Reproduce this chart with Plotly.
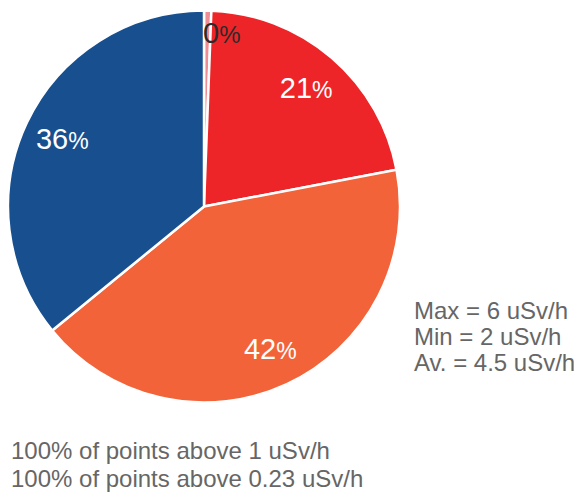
import plotly.graph_objects as go

categories = ["< 1 uSv/h", "1-3 uSv/h", "3-5 uSv/h", "> 5 uSv/h"]
values = [0.6, 21.4, 42.1, 35.9]
pct_labels = ["0", "21", "42", "36"]
colors = ["#EE8E94", "#EE2528", "#F2633A", "#174F8F"]
stats_lines = ["Max = 6 uSv/h", "Min = 2 uSv/h", "Av. = 4.5 uSv/h"]
note_lines = ["100% of points above 1 uSv/h", "100% of points above 0.23 uSv/h"]

W, H = 582, 495
OFF = 8  # page body margin in the browser

def px(x):
    return (x - OFF) / W

def py(y):
    return 1 - (y - OFF) / H

FONT = "Liberation Sans, Arial, Helvetica, sans-serif"
pct_span = "<span style='font-size:23px'>%</span>"
texts = [""] + [f"{p}{pct_span}" for p in pct_labels[1:]]

dom = dict(x=[px(8), px(400)], y=[py(403), py(10)])

# solid pie
fig = go.Figure(go.Pie(
    labels=categories, values=values, sort=False, direction="clockwise", rotation=0,
    marker=dict(colors=colors, line=dict(color="white", width=2.5)),
    textinfo="none", domain=dom, showlegend=False, hoverinfo="label+percent",
))
# transparent ring carrying the percentage labels near the rim
fig.add_trace(go.Pie(
    labels=categories, values=values, sort=False, direction="clockwise", rotation=0,
    hole=0.6,
    marker=dict(colors=["rgba(0,0,0,0)"] * len(values), line=dict(width=0)),
    text=texts, textinfo="text", textposition="inside",
    insidetextorientation="horizontal",
    textfont=dict(family=FONT, size=29, color="white"),
    domain=dom, showlegend=False, hoverinfo="skip",
))

# label of the tiny slice
fig.add_annotation(text=f"{pct_labels[0]}<span style='font-size:24px'>%</span>",
                   x=px(221), y=py(33), xref="paper", yref="paper",
                   xanchor="center", yanchor="middle", showarrow=False,
                   font=dict(family=FONT, size=29, color="#2B2B2B"))

font = dict(family=FONT, size=24, color="#666666")
for i, line in enumerate(stats_lines):
    fig.add_annotation(text=line, x=px(412), y=py(310 + 26 * i),
                       xref="paper", yref="paper", xanchor="left", yanchor="middle",
                       showarrow=False, align="left", font=font)
for i, line in enumerate(note_lines):
    fig.add_annotation(text=line, x=px(9), y=py(450 + 28 * i),
                       xref="paper", yref="paper", xanchor="left", yanchor="middle",
                       showarrow=False, align="left", font=font)

fig.update_layout(width=W, height=H, margin=dict(l=0, r=0, t=0, b=0),
                  paper_bgcolor="white", plot_bgcolor="white")
fig.write_html("out.html")
